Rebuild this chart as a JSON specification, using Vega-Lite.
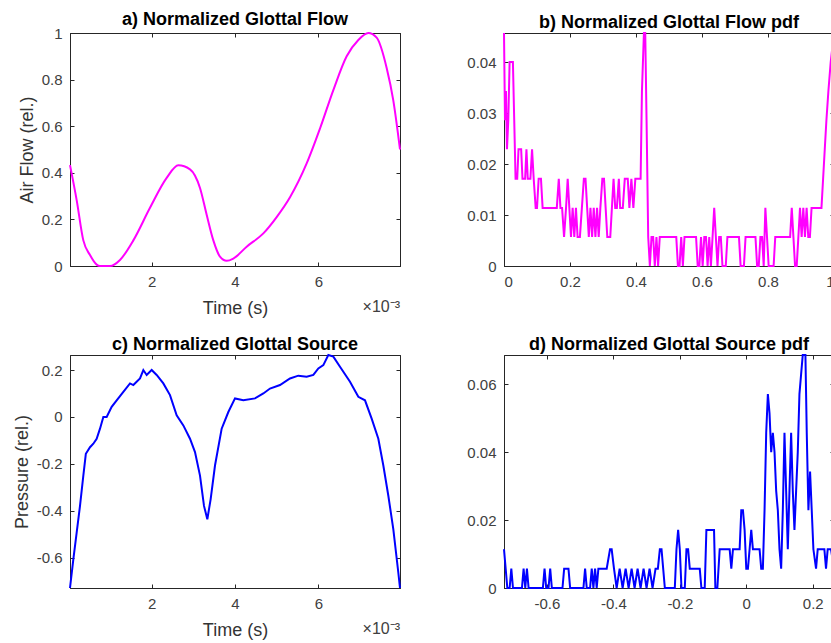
{
  "$schema": "https://vega.github.io/schema/vega-lite/v6.json",
  "padding": {"left": 12, "top": 10, "right": 0, "bottom": 2},
  "background": "white",
  "config": {
    "font": "Liberation Sans",
    "view": {"stroke": "#262626", "strokeWidth": 1},
    "axis": {"grid": false, "domainColor": "#262626", "tickColor": "#262626", "tickSize": -4, "labelFont": "Liberation Sans", "labelFontSize": 15, "labelColor": "#404040", "titleFont": "Liberation Sans", "titleFontSize": 18, "titleFontWeight": "normal", "titleColor": "#333333", "labelPadding": 12},
    "axisX": {"titlePadding": 10},
    "axisY": {"titlePadding": 5},
    "title": {"fontSize": 18, "font": "Liberation Sans", "fontWeight": "bold", "color": "#000000", "offset": -3, "frame": "group", "anchor": "middle"}
  },
  "datasets": {
    "flow": [
      {"t": 0.04, "v": 0.433}, {"t": 0.2, "v": 0.283}, {"t": 0.36, "v": 0.11}, {"t": 0.52, "v": 0.047},
      {"t": 0.68, "v": 0.006}, {"t": 0.76, "v": 0.0}, {"t": 1.0, "v": 0.0}, {"t": 1.24, "v": 0.026},
      {"t": 1.56, "v": 0.11}, {"t": 1.96, "v": 0.25}, {"t": 2.36, "v": 0.378}, {"t": 2.64, "v": 0.432},
      {"t": 2.92, "v": 0.415}, {"t": 3.16, "v": 0.335}, {"t": 3.32, "v": 0.22}, {"t": 3.48, "v": 0.11},
      {"t": 3.64, "v": 0.04}, {"t": 3.8, "v": 0.022}, {"t": 3.96, "v": 0.032}, {"t": 4.28, "v": 0.083},
      {"t": 4.68, "v": 0.14}, {"t": 5.0, "v": 0.21}, {"t": 5.32, "v": 0.295}, {"t": 5.72, "v": 0.44},
      {"t": 6.04, "v": 0.59}, {"t": 6.36, "v": 0.755}, {"t": 6.68, "v": 0.9}, {"t": 6.96, "v": 0.97},
      {"t": 7.2, "v": 1.0}, {"t": 7.4, "v": 0.98}, {"t": 7.64, "v": 0.85}, {"t": 7.8, "v": 0.71},
      {"t": 7.96, "v": 0.5}
    ],
    "flowpdf": [
      {"x": 0, "p": 0.0457}, {"x": 0.003, "p": 0.0286}, {"x": 0.006, "p": 0.0343}, {"x": 0.009, "p": 0.0229},
      {"x": 0.013, "p": 0.0286}, {"x": 0.017, "p": 0.04}, {"x": 0.021, "p": 0.04}, {"x": 0.027, "p": 0.04},
      {"x": 0.031, "p": 0.0286}, {"x": 0.035, "p": 0.0171}, {"x": 0.04, "p": 0.0171}, {"x": 0.044, "p": 0.0229},
      {"x": 0.052, "p": 0.0229}, {"x": 0.056, "p": 0.0171}, {"x": 0.064, "p": 0.0171}, {"x": 0.068, "p": 0.0229},
      {"x": 0.072, "p": 0.0171}, {"x": 0.08, "p": 0.0171}, {"x": 0.085, "p": 0.0229}, {"x": 0.09, "p": 0.0171},
      {"x": 0.096, "p": 0.0114}, {"x": 0.1, "p": 0.0114}, {"x": 0.105, "p": 0.0171}, {"x": 0.112, "p": 0.0171},
      {"x": 0.117, "p": 0.0114}, {"x": 0.16, "p": 0.0114}, {"x": 0.166, "p": 0.0171}, {"x": 0.171, "p": 0.0114},
      {"x": 0.176, "p": 0.0114}, {"x": 0.182, "p": 0.0057}, {"x": 0.188, "p": 0.0114}, {"x": 0.193, "p": 0.0171},
      {"x": 0.198, "p": 0.0114}, {"x": 0.203, "p": 0.0057}, {"x": 0.208, "p": 0.0114}, {"x": 0.213, "p": 0.0057},
      {"x": 0.218, "p": 0.0114}, {"x": 0.223, "p": 0.0057}, {"x": 0.23, "p": 0.0057}, {"x": 0.236, "p": 0.0114},
      {"x": 0.242, "p": 0.0171}, {"x": 0.247, "p": 0.0171}, {"x": 0.252, "p": 0.0114}, {"x": 0.257, "p": 0.0057},
      {"x": 0.262, "p": 0.0114}, {"x": 0.267, "p": 0.0057}, {"x": 0.272, "p": 0.0114}, {"x": 0.277, "p": 0.0057},
      {"x": 0.282, "p": 0.0114}, {"x": 0.287, "p": 0.0057}, {"x": 0.292, "p": 0.0114}, {"x": 0.298, "p": 0.0171},
      {"x": 0.303, "p": 0.0171}, {"x": 0.308, "p": 0.0114}, {"x": 0.313, "p": 0.0057}, {"x": 0.322, "p": 0.0057},
      {"x": 0.327, "p": 0.0114}, {"x": 0.332, "p": 0.0171}, {"x": 0.337, "p": 0.0114}, {"x": 0.342, "p": 0.0114},
      {"x": 0.348, "p": 0.0171}, {"x": 0.352, "p": 0.0114}, {"x": 0.36, "p": 0.0114}, {"x": 0.366, "p": 0.0171},
      {"x": 0.375, "p": 0.0171}, {"x": 0.38, "p": 0.0114}, {"x": 0.386, "p": 0.0171}, {"x": 0.392, "p": 0.0114},
      {"x": 0.398, "p": 0.0171}, {"x": 0.414, "p": 0.0171}, {"x": 0.418, "p": 0.0343}, {"x": 0.424, "p": 0.0457},
      {"x": 0.428, "p": 0.0457}, {"x": 0.432, "p": 0.0286}, {"x": 0.437, "p": 0.0057}, {"x": 0.442, "p": 0},
      {"x": 0.447, "p": 0.0057}, {"x": 0.452, "p": 0.0057}, {"x": 0.457, "p": 0}, {"x": 0.462, "p": 0.0057},
      {"x": 0.467, "p": 0}, {"x": 0.472, "p": 0.0057}, {"x": 0.522, "p": 0.0057}, {"x": 0.527, "p": 0},
      {"x": 0.532, "p": 0}, {"x": 0.537, "p": 0.0057}, {"x": 0.542, "p": 0}, {"x": 0.547, "p": 0.0057},
      {"x": 0.582, "p": 0.0057}, {"x": 0.587, "p": 0}, {"x": 0.592, "p": 0}, {"x": 0.597, "p": 0.0057},
      {"x": 0.602, "p": 0}, {"x": 0.607, "p": 0.0057}, {"x": 0.612, "p": 0.0057}, {"x": 0.617, "p": 0},
      {"x": 0.622, "p": 0.0057}, {"x": 0.627, "p": 0}, {"x": 0.632, "p": 0.0057}, {"x": 0.637, "p": 0.0114},
      {"x": 0.642, "p": 0.0057}, {"x": 0.647, "p": 0}, {"x": 0.652, "p": 0.0057}, {"x": 0.657, "p": 0.0057},
      {"x": 0.662, "p": 0}, {"x": 0.672, "p": 0}, {"x": 0.677, "p": 0.0057}, {"x": 0.712, "p": 0.0057},
      {"x": 0.717, "p": 0}, {"x": 0.727, "p": 0}, {"x": 0.732, "p": 0.0057}, {"x": 0.762, "p": 0.0057},
      {"x": 0.767, "p": 0}, {"x": 0.772, "p": 0}, {"x": 0.777, "p": 0.0057}, {"x": 0.782, "p": 0.0057},
      {"x": 0.787, "p": 0}, {"x": 0.792, "p": 0.0114}, {"x": 0.797, "p": 0.0057}, {"x": 0.802, "p": 0},
      {"x": 0.817, "p": 0}, {"x": 0.822, "p": 0.0057}, {"x": 0.867, "p": 0.0057}, {"x": 0.872, "p": 0.0114},
      {"x": 0.877, "p": 0.0057}, {"x": 0.882, "p": 0}, {"x": 0.887, "p": 0}, {"x": 0.892, "p": 0.0057},
      {"x": 0.897, "p": 0.0114}, {"x": 0.902, "p": 0.0057}, {"x": 0.907, "p": 0.0114}, {"x": 0.912, "p": 0.0057},
      {"x": 0.917, "p": 0.0114}, {"x": 0.922, "p": 0.0057}, {"x": 0.927, "p": 0.0057}, {"x": 0.932, "p": 0.0114},
      {"x": 0.962, "p": 0.0114}, {"x": 0.967, "p": 0.0171}, {"x": 0.972, "p": 0.0229}, {"x": 0.977, "p": 0.0286},
      {"x": 0.983, "p": 0.0343}, {"x": 0.99, "p": 0.04}, {"x": 1.0, "p": 0.0457}
    ],
    "source": [
      {"t": 0.04, "v": -0.729}, {"t": 0.12, "v": -0.607}, {"t": 0.2, "v": -0.493}, {"t": 0.28, "v": -0.379},
      {"t": 0.36, "v": -0.25}, {"t": 0.42, "v": -0.157}, {"t": 0.52, "v": -0.129}, {"t": 0.6, "v": -0.114},
      {"t": 0.68, "v": -0.093}, {"t": 0.76, "v": -0.05}, {"t": 0.84, "v": 0.0}, {"t": 0.92, "v": 0.0},
      {"t": 1.04, "v": 0.043}, {"t": 1.16, "v": 0.071}, {"t": 1.32, "v": 0.107}, {"t": 1.48, "v": 0.143},
      {"t": 1.56, "v": 0.136}, {"t": 1.72, "v": 0.164}, {"t": 1.8, "v": 0.2}, {"t": 1.88, "v": 0.179},
      {"t": 2.0, "v": 0.2}, {"t": 2.12, "v": 0.179}, {"t": 2.28, "v": 0.143}, {"t": 2.44, "v": 0.093},
      {"t": 2.6, "v": 0.007}, {"t": 2.76, "v": -0.036}, {"t": 2.92, "v": -0.093}, {"t": 3.04, "v": -0.15},
      {"t": 3.16, "v": -0.25}, {"t": 3.256, "v": -0.379}, {"t": 3.336, "v": -0.436}, {"t": 3.416, "v": -0.35},
      {"t": 3.52, "v": -0.207}, {"t": 3.68, "v": -0.05}, {"t": 3.84, "v": 0.021}, {"t": 4.0, "v": 0.079},
      {"t": 4.2, "v": 0.071}, {"t": 4.48, "v": 0.079}, {"t": 4.68, "v": 0.1}, {"t": 4.84, "v": 0.121},
      {"t": 5.08, "v": 0.136}, {"t": 5.32, "v": 0.164}, {"t": 5.52, "v": 0.176}, {"t": 5.72, "v": 0.171},
      {"t": 5.88, "v": 0.179}, {"t": 6.0, "v": 0.207}, {"t": 6.12, "v": 0.221}, {"t": 6.24, "v": 0.264},
      {"t": 6.36, "v": 0.257}, {"t": 6.52, "v": 0.214}, {"t": 6.76, "v": 0.15}, {"t": 6.96, "v": 0.086},
      {"t": 7.12, "v": 0.071}, {"t": 7.28, "v": -0.007}, {"t": 7.44, "v": -0.093}, {"t": 7.56, "v": -0.207},
      {"t": 7.68, "v": -0.336}, {"t": 7.8, "v": -0.479}, {"t": 7.92, "v": -0.664}, {"t": 7.96, "v": -0.729}
    ],
    "sourcepdf": [
      {"x": -0.729, "p": 0.0114}, {"x": -0.724, "p": 0.0057}, {"x": -0.719, "p": 0}, {"x": -0.712, "p": 0},
      {"x": -0.707, "p": 0.0057}, {"x": -0.702, "p": 0}, {"x": -0.675, "p": 0}, {"x": -0.67, "p": 0.0057},
      {"x": -0.665, "p": 0}, {"x": -0.66, "p": 0.0057}, {"x": -0.655, "p": 0}, {"x": -0.612, "p": 0},
      {"x": -0.607, "p": 0.0057}, {"x": -0.602, "p": 0}, {"x": -0.595, "p": 0}, {"x": -0.59, "p": 0.0057},
      {"x": -0.585, "p": 0}, {"x": -0.553, "p": 0}, {"x": -0.548, "p": 0.0057}, {"x": -0.535, "p": 0.0057},
      {"x": -0.53, "p": 0}, {"x": -0.49, "p": 0}, {"x": -0.485, "p": 0.0057}, {"x": -0.48, "p": 0},
      {"x": -0.47, "p": 0}, {"x": -0.465, "p": 0.0057}, {"x": -0.46, "p": 0}, {"x": -0.455, "p": 0.0057},
      {"x": -0.45, "p": 0}, {"x": -0.445, "p": 0.0057}, {"x": -0.42, "p": 0.0057}, {"x": -0.41, "p": 0.0114},
      {"x": -0.405, "p": 0.0114}, {"x": -0.398, "p": 0.0057}, {"x": -0.39, "p": 0}, {"x": -0.381, "p": 0.0057},
      {"x": -0.372, "p": 0}, {"x": -0.363, "p": 0.0057}, {"x": -0.354, "p": 0}, {"x": -0.345, "p": 0.0057},
      {"x": -0.336, "p": 0}, {"x": -0.327, "p": 0.0057}, {"x": -0.318, "p": 0}, {"x": -0.309, "p": 0.0057},
      {"x": -0.3, "p": 0}, {"x": -0.291, "p": 0.0057}, {"x": -0.282, "p": 0}, {"x": -0.273, "p": 0.0057},
      {"x": -0.266, "p": 0.0057},
      {"x": -0.26, "p": 0.0114}, {"x": -0.255, "p": 0.0114}, {"x": -0.25, "p": 0.0057}, {"x": -0.245, "p": 0},
      {"x": -0.215, "p": 0}, {"x": -0.21, "p": 0.0114}, {"x": -0.205, "p": 0.0171}, {"x": -0.2, "p": 0.0114},
      {"x": -0.195, "p": 0}, {"x": -0.185, "p": 0}, {"x": -0.18, "p": 0.0114}, {"x": -0.175, "p": 0.0114},
      {"x": -0.17, "p": 0.0057}, {"x": -0.14, "p": 0.0057}, {"x": -0.135, "p": 0}, {"x": -0.125, "p": 0},
      {"x": -0.12, "p": 0.0171}, {"x": -0.097, "p": 0.0171}, {"x": -0.093, "p": 0}, {"x": -0.087, "p": 0},
      {"x": -0.08, "p": 0.0114}, {"x": -0.05, "p": 0.0114}, {"x": -0.045, "p": 0.0057}, {"x": -0.04, "p": 0.0114},
      {"x": -0.02, "p": 0.0114}, {"x": -0.015, "p": 0.0229}, {"x": -0.01, "p": 0.0229}, {"x": -0.005, "p": 0.0171},
      {"x": 0.0, "p": 0.0057}, {"x": 0.005, "p": 0.0057}, {"x": 0.01, "p": 0.0114}, {"x": 0.015, "p": 0.0171},
      {"x": 0.02, "p": 0.0114}, {"x": 0.025, "p": 0.0114}, {"x": 0.04, "p": 0.0114}, {"x": 0.045, "p": 0.0057},
      {"x": 0.05, "p": 0.0057}, {"x": 0.055, "p": 0.0229}, {"x": 0.06, "p": 0.0457}, {"x": 0.065, "p": 0.0571},
      {"x": 0.07, "p": 0.0514}, {"x": 0.075, "p": 0.04}, {"x": 0.08, "p": 0.0457}, {"x": 0.085, "p": 0.04},
      {"x": 0.09, "p": 0.0286}, {"x": 0.095, "p": 0.0229}, {"x": 0.1, "p": 0.0114}, {"x": 0.105, "p": 0.0057},
      {"x": 0.11, "p": 0.0229}, {"x": 0.115, "p": 0.0457}, {"x": 0.12, "p": 0.0286}, {"x": 0.125, "p": 0.0114},
      {"x": 0.13, "p": 0.0286}, {"x": 0.135, "p": 0.0457}, {"x": 0.14, "p": 0.0286}, {"x": 0.145, "p": 0.0171},
      {"x": 0.15, "p": 0.0286}, {"x": 0.155, "p": 0.04}, {"x": 0.16, "p": 0.0571}, {"x": 0.165, "p": 0.0629},
      {"x": 0.17, "p": 0.0686}, {"x": 0.178, "p": 0.0686}, {"x": 0.182, "p": 0.0457}, {"x": 0.187, "p": 0.0229},
      {"x": 0.192, "p": 0.0343}, {"x": 0.197, "p": 0.0229}, {"x": 0.202, "p": 0.0114}, {"x": 0.21, "p": 0.0057},
      {"x": 0.215, "p": 0.0114}, {"x": 0.235, "p": 0.0114}, {"x": 0.24, "p": 0.0057}, {"x": 0.245, "p": 0.0114},
      {"x": 0.255, "p": 0.0114}, {"x": 0.264, "p": 0.0057}
    ]
  },
  "concat": [
    {
      "title": "a) Normalized Glottal Flow",
      "width": 330, "height": 233,
      "layer": [
        {
          "data": {"name": "flow"},
          "mark": {"type": "line", "color": "#ff00ff", "strokeWidth": 2, "interpolate": "monotone"},
          "encoding": {
            "x": {"field": "t", "type": "quantitative", "scale": {"domain": [0.04, 7.96], "nice": false, "zero": false}, "axis": {"values": [2, 4, 6], "title": "Time (s)"}},
            "y": {"field": "v", "type": "quantitative", "scale": {"domain": [0, 1], "nice": false}, "axis": {"values": [0, 0.2, 0.4, 0.6, 0.8, 1], "format": "~g", "title": "Air Flow (rel.)"}}
          }
        },
        {
          "data": {"name": "flow"},
          "mark": {"type": "line", "opacity": 0},
          "encoding": {
            "x": {"field": "t", "type": "quantitative", "axis": {"orient": "top", "values": [2, 4, 6], "labels": false, "title": null}},
            "y": {"field": "v", "type": "quantitative", "axis": {"orient": "right", "values": [0, 0.2, 0.4, 0.6, 0.8, 1], "labels": false, "title": null}}
          }
        },
        {
          "data": {"values": [{"label": "×10⁻³"}]},
          "mark": {"type": "text", "align": "right", "baseline": "alphabetic", "dy": 46, "fontSize": 16, "color": "#404040"},
          "encoding": {
            "x": {"datum": 7.96, "type": "quantitative", "axis": null},
            "y": {"datum": 0, "type": "quantitative", "axis": null},
            "text": {"field": "label"}
          }
        }
      ],
      "resolve": {"axis": {"x": "independent", "y": "independent"}}
    },
    {
      "title": "b) Normalized Glottal Flow pdf",
      "width": 330, "height": 233,
      "data": {"name": "flowpdf"},
      "layer": [
        {
          "mark": {"type": "line", "color": "#ff00ff", "strokeWidth": 2},
          "encoding": {
            "x": {"field": "x", "type": "quantitative", "scale": {"domain": [0, 1], "nice": false}, "axis": {"values": [0, 0.2, 0.4, 0.6, 0.8, 1], "format": "~g", "title": null}},
            "y": {"field": "p", "type": "quantitative", "scale": {"domain": [0, 0.0457], "nice": false}, "axis": {"values": [0, 0.01, 0.02, 0.03, 0.04], "format": "~g", "title": null}}
          }
        },
        {
          "mark": {"type": "line", "opacity": 0},
          "encoding": {
            "x": {"field": "x", "type": "quantitative", "axis": {"orient": "top", "values": [0, 0.2, 0.4, 0.6, 0.8, 1], "labels": false, "title": null}},
            "y": {"field": "p", "type": "quantitative", "axis": {"orient": "right", "values": [0, 0.01, 0.02, 0.03, 0.04], "labels": false, "title": null}}
          }
        }
      ],
      "resolve": {"axis": {"x": "independent", "y": "independent"}}
    },
    {
      "title": "c) Normalized Glottal Source",
      "width": 330, "height": 233,
      "layer": [
        {
          "data": {"name": "source"},
          "mark": {"type": "line", "color": "#0000ff", "strokeWidth": 2},
          "encoding": {
            "x": {"field": "t", "type": "quantitative", "scale": {"domain": [0.04, 7.96], "nice": false, "zero": false}, "axis": {"values": [2, 4, 6], "title": "Time (s)"}},
            "y": {"field": "v", "type": "quantitative", "scale": {"domain": [-0.729, 0.264], "nice": false, "zero": false}, "axis": {"values": [-0.6, -0.4, -0.2, 0, 0.2], "labelExpr": "replace(format(datum.value, '~g'), '−', '-')", "title": "Pressure (rel.)"}}
          }
        },
        {
          "data": {"name": "source"},
          "mark": {"type": "line", "opacity": 0},
          "encoding": {
            "x": {"field": "t", "type": "quantitative", "axis": {"orient": "top", "values": [2, 4, 6], "labels": false, "title": null}},
            "y": {"field": "v", "type": "quantitative", "axis": {"orient": "right", "values": [-0.6, -0.4, -0.2, 0, 0.2], "labels": false, "title": null}}
          }
        },
        {
          "data": {"values": [{"label": "×10⁻³"}]},
          "mark": {"type": "text", "align": "right", "baseline": "alphabetic", "dy": 46, "fontSize": 16, "color": "#404040"},
          "encoding": {
            "x": {"datum": 7.96, "type": "quantitative", "axis": null},
            "y": {"datum": -0.729, "type": "quantitative", "axis": null},
            "text": {"field": "label"}
          }
        }
      ],
      "resolve": {"axis": {"x": "independent", "y": "independent"}}
    },
    {
      "title": "d) Normalized Glottal Source pdf",
      "width": 330, "height": 233,
      "data": {"name": "sourcepdf"},
      "layer": [
        {
          "mark": {"type": "line", "color": "#0000ff", "strokeWidth": 2},
          "encoding": {
            "x": {"field": "x", "type": "quantitative", "scale": {"domain": [-0.729, 0.264], "nice": false, "zero": false}, "axis": {"values": [-0.6, -0.4, -0.2, 0, 0.2], "labelExpr": "replace(format(datum.value, '~g'), '−', '-')", "title": null}},
            "y": {"field": "p", "type": "quantitative", "scale": {"domain": [0, 0.0686], "nice": false}, "axis": {"values": [0, 0.02, 0.04, 0.06], "format": "~g", "title": null}}
          }
        },
        {
          "mark": {"type": "line", "opacity": 0},
          "encoding": {
            "x": {"field": "x", "type": "quantitative", "axis": {"orient": "top", "values": [-0.6, -0.4, -0.2, 0, 0.2], "labels": false, "title": null}},
            "y": {"field": "p", "type": "quantitative", "axis": {"orient": "right", "values": [0, 0.02, 0.04, 0.06], "labels": false, "title": null}}
          }
        }
      ],
      "resolve": {"axis": {"x": "independent", "y": "independent"}}
    }
  ],
  "columns": 2,
  "spacing": {"column": 61, "row": 17}
}
